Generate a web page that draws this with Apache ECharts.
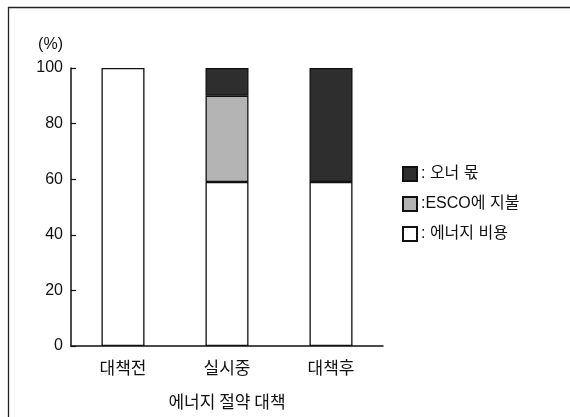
<!DOCTYPE html>
<html>
<head>
<meta charset="utf-8">
<script src="https://cdn.jsdelivr.net/npm/echarts@6/dist/echarts.min.js"></script>
<style>
  html, body { margin: 0; padding: 0; background: #fff; }
  #chart { width: 570px; height: 417px; }
</style>
</head>
<body>
<div id="chart"></div>
<script>
// Share of costs before, during and after the energy saving measures (%)
const categories = ['대책전', '실시중', '대책후'];
const energyCost = [100, 59, 59];      // 에너지 비용
const escoPayment = [null, 31, null];  // ESCO에 지불
const ownerShare = [null, 10, 41];     // 오너 몫
const yTicks = { min: 0, max: 100, interval: 20 };

const FONT = "'Liberation Sans', 'Noto Sans CJK KR', sans-serif";
const KFONT = "'Noto Sans CJK KR', 'Liberation Sans', sans-serif";
const INK = '#111';

const chart = echarts.init(document.getElementById('chart'), null, { renderer: 'canvas' });

function barSeries(name, data, color) {
  return {
    name: name,
    type: 'bar',
    stack: 'total',
    data: data,
    barWidth: 43,
    itemStyle: { color: color, borderColor: INK, borderWidth: 1.3 },
    emphasis: { disabled: true }
  };
}

chart.setOption({
  animation: false,
  backgroundColor: '#fff',
  textStyle: { fontFamily: FONT, color: INK },
  grid: { left: 71, right: 187, top: 68, bottom: 71 },
  legend: {
    orient: 'vertical',
    left: 397,
    top: 161,
    itemWidth: 14,
    itemHeight: 14,
    itemGap: 14,
    icon: 'rect',
    data: ['오너 몫', 'ESCO에 지불', '에너지 비용'],
    formatter: function (n) { return n === 'ESCO에 지불' ? ':ESCO에 지불' : ': ' + n; },
    textStyle: { fontFamily: FONT, fontSize: 16, color: INK, padding: [0, 0, 0, -1] }
  },
  xAxis: {
    type: 'category',
    data: categories,
    name: '에너지 절약 대책',
    nameLocation: 'middle',
    nameGap: 47,
    nameTextStyle: { fontFamily: KFONT, fontSize: 17, color: INK },
    axisLine: { lineStyle: { color: INK, width: 1.5 } },
    axisTick: { show: false },
    axisLabel: { margin: 13, fontFamily: KFONT, fontSize: 17, color: INK }
  },
  yAxis: {
    type: 'value',
    min: yTicks.min,
    max: yTicks.max,
    interval: yTicks.interval,
    name: '(%)',
    nameLocation: 'end',
    nameGap: 15,
    nameTextStyle: { fontFamily: FONT, fontSize: 16, color: INK, align: 'right', padding: [0, 8, 0, 0] },
    splitLine: { show: false },
    axisLine: { show: true, lineStyle: { color: INK, width: 1.5 } },
    axisTick: { show: true, inside: true, length: 5, lineStyle: { color: INK, width: 1.2 } },
    axisLabel: { margin: 8, fontFamily: FONT, fontSize: 16, color: INK }
  },
  series: [
    barSeries('에너지 비용', energyCost, '#ffffff'),
    barSeries('ESCO에 지불', escoPayment, '#b4b4b4'),
    barSeries('오너 몫', ownerShare, '#2e2e2e')
  ],
  graphic: [
    { type: 'line', shape: { x1: 8, y1: 7.5, x2: 570, y2: 7.5 }, style: { stroke: '#222', lineWidth: 1.3 }, silent: true },
    { type: 'line', shape: { x1: 8.5, y1: 7, x2: 8.5, y2: 417 }, style: { stroke: '#222', lineWidth: 1.3 }, silent: true }
  ]
});
</script>
</body>
</html>
